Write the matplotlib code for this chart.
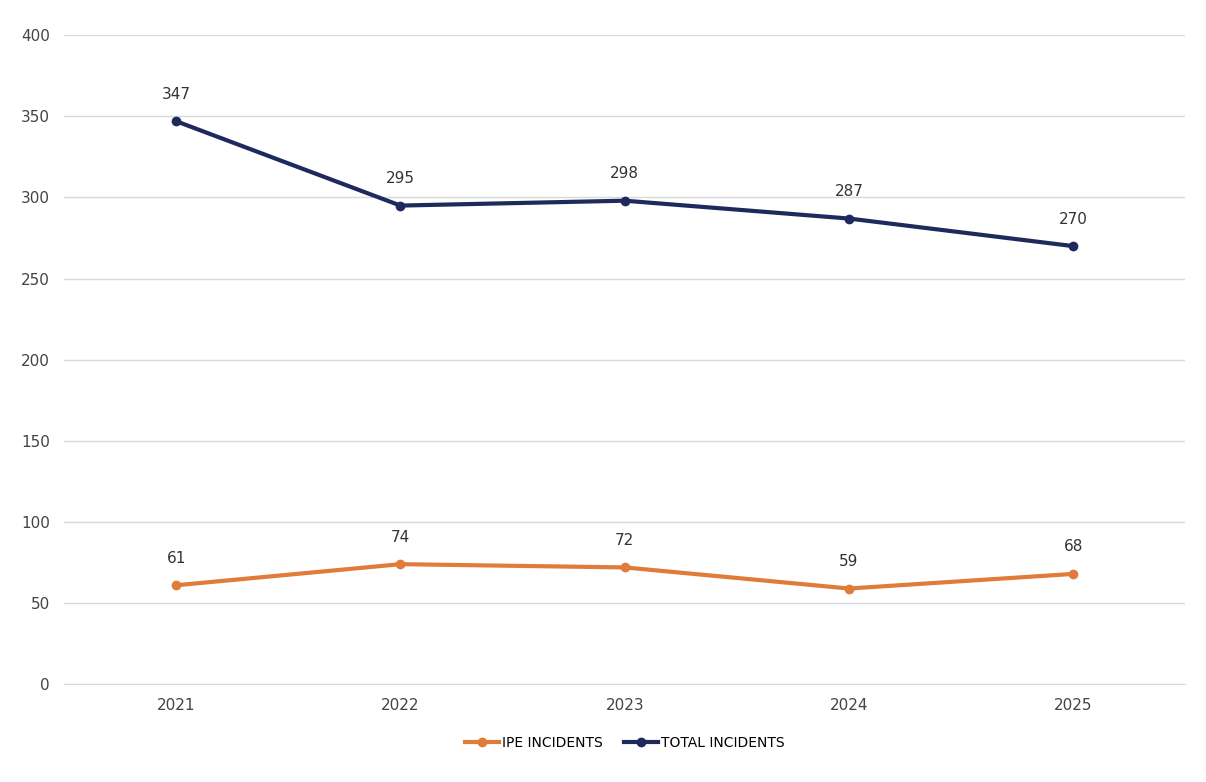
import matplotlib.pyplot as plt

years = ['2021', '2022', '2023', '2024', '2025']
ipe = [61, 74, 72, 59, 68]
total = [347, 295, 298, 287, 270]

navy = '#1f2a5c'
orange = '#e07b39'

fig = plt.figure(figsize=(12.06, 7.82), dpi=100)
ax = fig.add_axes([0.053, 0.125, 0.93, 0.83])

x = range(len(years))
ax.plot(x, ipe, color=orange, lw=3, marker='o', ms=6, label='IPE INCIDENTS')
ax.plot(x, total, color=navy, lw=3, marker='o', ms=6, label='TOTAL INCIDENTS')

for xi, v in zip(x, ipe):
    ax.annotate(str(v), (xi, v), xytext=(0, 14), textcoords='offset points',
                ha='center', va='bottom', fontsize=11, color='#333333')
for xi, v in zip(x, total):
    ax.annotate(str(v), (xi, v), xytext=(0, 14), textcoords='offset points',
                ha='center', va='bottom', fontsize=11, color='#333333')

ax.set_xlim(-0.5, 4.5)
ax.set_ylim(0, 400)
ax.set_yticks(range(0, 401, 50))
ax.set_xticks(list(x))
ax.set_xticklabels(years)
ax.grid(axis='y', color='#d9d9d9', lw=1)
ax.set_axisbelow(True)
for s in ['top', 'right', 'left']:
    ax.spines[s].set_visible(False)
ax.spines['bottom'].set_color('#d9d9d9')
ax.tick_params(length=0, labelsize=11, colors='#444444', pad=10)

ax.legend(loc='upper center', bbox_to_anchor=(0.5, -0.06), ncol=2, frameon=False,
          fontsize=10, handlelength=2.5, handletextpad=0.2, columnspacing=1.5)

fig.savefig('out.png')
